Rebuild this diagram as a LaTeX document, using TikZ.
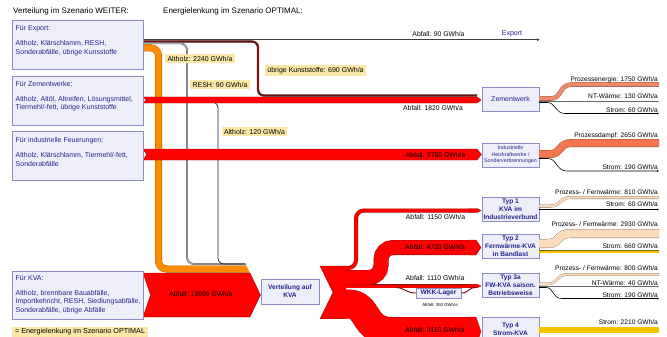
\documentclass[tikz,border=0pt]{standalone}
\usepackage{fontspec}
\setmainfont{Liberation Sans}
\usepackage{tikz}
\usetikzlibrary{arrows.meta}
\definecolor{boxfill}{HTML}{EEEEF8}
\definecolor{boxline}{HTML}{8C8CC8}
\definecolor{boxblue}{HTML}{25258F}
\definecolor{labfill}{HTML}{FBE8A6}
\definecolor{kred}{HTML}{FF0000}
\definecolor{kline}{HTML}{8A1010}
\definecolor{kstoff}{HTML}{7A1414}
\definecolor{alt}{HTML}{FF8C00}
\definecolor{resh}{HTML}{A8A8A8}
\definecolor{lachs}{HTML}{EE8A6C}
\definecolor{dampf}{HTML}{F47650}
\definecolor{waerme}{HTML}{FADCBC}
\definecolor{strom}{HTML}{F2C500}

\begin{document}
\begin{tikzpicture}[x=1pt,y=-1pt,
  box/.style={draw=boxline, fill=boxfill, line width=.6pt, inner sep=0pt},
  boxtxt/.style={anchor=north west, inner sep=0pt, align=left, text=boxblue, font=\fontsize{7}{8.5}\selectfont},
  anlage/.style={box, text=boxblue, align=center, minimum width=57pt, minimum height=24pt, font=\bfseries\fontsize{6.6}{8}\selectfont},
  gelb/.style={fill=labfill, inner xsep=2.5pt, inner ysep=1.8pt, font=\fontsize{7}{8}\selectfont},
  wert/.style={inner sep=0pt, font=\fontsize{6.8}{8}\selectfont},
  aus/.style={anchor=base east, inner sep=0pt, font=\fontsize{6.6}{8}\selectfont},
  titel/.style={anchor=west, inner sep=0pt, font=\fontsize{8}{9}\selectfont},
  rotfl/.style={fill=kred, draw=kline, line width=.3pt},
  band/.style n args={3}{draw=#1, double=#2, double distance=#3, line width=.3pt},
  duenn/.style={line width=.6pt, -{Latex[length=2pt,width=2pt]}}]
\useasboundingbox (0,0) rectangle (667,337);

\node[titel] (t1) at (13,11) {Verteilung im Szenario WEITER:};
\node[titel] (t2) at (163,11) {Energielenkung im Szenario OPTIMAL:};

\draw[black!75, line width=.7pt, -{Latex[length=3pt,width=3pt]}] (143,39.7) -- (540,39.7);
\draw[band={black!80}{kstoff}{1.6pt}, rounded corners=6pt] (143,41.5) -- (258,41.5) -- (258,95.6) -- (477,95.6);
\draw[band={black!70}{resh}{1.2pt}, rounded corners=7pt] (143,43.2) -- (187,43.2) -- (187,264) -- (247,264);
\draw[black!85, line width=.7pt, rounded corners=6pt] (143,102) -- (218,102) -- (218,264) -- (247,264);
\draw[band={alt!60!black}{alt}{6.4pt}, rounded corners=8pt] (143,47.8) -- (158.5,47.8) -- (158.5,269) -- (253,269);
\fill[white] (244.3,261) -- (264,261) -- (264,295) -- (260.5,295) -- cycle;
\filldraw[rotfl] (143,273) -- (250,273) -- (260.5,295) -- (250,317) -- (143,317) -- (150.5,295) -- cycle;
\filldraw[rotfl] (143,97) -- (477,97) -- (481,100) -- (477,103) -- (143,103) -- (146,100) -- cycle;
\filldraw[rotfl] (143,149) -- (477,149) -- (481.5,154.5) -- (477,160) -- (143,160) -- (146.5,154.5) -- cycle;

\node[gelb] (lalt) at (200,58.5) {Altholz: 2240 GWh/a};
\node[gelb] (lresh) at (220,84.5) {RESH: 90 GWh/a};
\node[gelb] (lkst) at (315.5,70.5) {übrige Kunststoffe: 690 GWh/a};
\node[gelb] (lalt2) at (254.5,131.5) {Altholz: 120 GWh/a};

\node[wert] (a90) at (438.5,34) {Abfall: 90 GWh/a};
\node[wert, text=boxblue, font=\fontsize{7}{8}\selectfont] (exp) at (512,34) {Export};
\node[wert] (a1820) at (433,108.5) {Abfall: 1820 GWh/a};
\node[wert] (a3780) at (435.5,155) {Abfall: 3780 GWh/a};
\node[wert] (a13990) at (201,294) {Abfall: 13990 GWh/a};

\node[box, minimum width=131pt, minimum height=49pt] (bexp) at (77.5,44.5) {};
\node[boxtxt] (texp) at (15.5,25.5) {Für Export:\\[6.5pt]Altholz, Klärschlamm, RESH,\\Sonderabfälle, übrige Kunsstoffe};
\node[box, minimum width=131pt, minimum height=49pt] (bzem) at (77.5,100.5) {};
\node[boxtxt] (tzem) at (15.5,81) {Für Zementwerke:\\[6.5pt]Altholz, Altöl, Altreifen, Lösungsmittel,\\Tiermehl/-fett,  übrige Kunststoffe};
\node[box, minimum width=131pt, minimum height=49pt] (bind) at (77.5,155.5) {};
\node[boxtxt] (tind) at (15.5,137.5) {Für industrielle Feuerungen:\\[6.5pt]Altholz, Klärschlamm, Tiermehl/-fett,\\Sonderabfälle};
\node[box, minimum width=131pt, minimum height=48pt] (bkva) at (77.5,295.5) {};
\node[boxtxt] (tkva) at (15.5,275) {Für KVA:\\[6.5pt]Altholz, brennbare Bauabfälle,\\Importkehricht, RESH, Siedlungsabfälle,\\Sonderabfälle, übrige Abfälle};
\node[gelb, anchor=north west, inner xsep=3pt, font=\fontsize{7.2}{8}\selectfont] (leg) at (12,326.5) {= Energielenkung im Szenario OPTIMAL};

\node[anlage, font=\fontsize{7}{8}\selectfont] (zem) at (510.5,99) {Zementwerk};
\node[anlage, font=\fontsize{5.3}{6.5}\selectfont] (hkw) at (510.5,155) {Industrielle\\Heizkraftwerke /\\Sonderverbrennungen};
\node[anlage] (typ1) at (510.5,209) {Typ 1\\KVA im\\Industrieverbund};
\node[anlage] (typ2) at (510.5,246.5) {Typ 2\\Fernwärme-KVA\\in Bandlast};
\node[anlage] (typ3) at (510.5,285.5) {Typ 3a\\FW-KVA saison.\\Betriebsweise};
\node[anlage] (typ4) at (510.5,329) {Typ 4\\Strom-KVA};
\node[anlage, minimum width=58pt, minimum height=25pt] (vert) at (290,291.5) {Verteilung auf\\KVA};
\node[anlage, minimum width=45pt, minimum height=10pt] (wkk) at (438.5,293) {WKK-Lager};

\draw[band={kline}{kred}{28.4pt}] (340,304) -- (348,304) .. controls (370,304) and (362,331.5) .. (392,331.5) -- (470,331.5);
\draw[band={kline}{kred}{3pt}] (340,286) -- (470,286);
\draw[band={kline}{kred}{14.4pt}, rounded corners=12pt] (340,277.5) -- (381,277.5) -- (381,247.5) -- (470,247.5);
\draw[band={kline}{kred}{3.4pt}, rounded corners=8pt] (340,268) -- (356,268) -- (356,210.5) -- (470,210.5);
\fill[kred] (320,266) -- (346,266) -- (346,318.8) -- (320,318.8) -- (333,292.4) -- cycle;
\draw[kline, line width=.3pt] (346,266) -- (320,266) -- (333,292.4) -- (320,318.8) -- (346,318.8);
\filldraw[rotfl] (469,208.5) -- (477,208.5) -- (481,210.5) -- (477,212.5) -- (469,212.5);
\filldraw[rotfl] (469,240) -- (476,240) -- (481,247.5) -- (476,255) -- (469,255);
\filldraw[rotfl] (469,284.2) -- (477,284.2) -- (481,286) -- (477,287.8) -- (469,287.8);
\filldraw[rotfl] (469,317) -- (476,317) -- (481,331.5) -- (476,346) -- (469,346);
\draw[kstoff, line width=1pt] (396,287.5) .. controls (404,287.5) and (406,293) .. (wkk.west);
\draw[kstoff, line width=1pt] (wkk.east) .. controls (469,293) and (468,287.5) .. (476,287.5);

\node[wert] (a1150) at (435.5,217.5) {Abfall: 1150 GWh/a};
\node[wert] (a4720) at (435,247.5) {Abfall: 4720 GWh/a};
\node[wert] (a1110) at (435,278) {Abfall: 1110 GWh/a};
\node[wert] (a9110) at (435,330.5) {Abfall: 9110 GWh/a};
\node[wert, font=\fontsize{4.3}{5}\selectfont] (a350) at (440,304.5) {Abfall: 350 GWh/a};

\draw[band={lachs!60!black}{lachs}{4pt}] (539,98.5) -- (551,98.5) .. controls (562,98.5) and (559,84.5) .. (572,84.5) -- (659,84.5);
\draw[duenn, black!60] (539,101.5) -- (659,101.5);
\draw[duenn] (539,102.5) -- (547,102.5) .. controls (556,102.5) and (555,113.5) .. (565,113.5) -- (659,113.5);
\draw[band={dampf!60!black}{dampf}{7.4pt}] (539,154) -- (550,154) .. controls (562,154) and (558,143) .. (572,143) -- (659,143);
\draw[duenn] (539,158.5) -- (548,158.5) .. controls (557,158.5) and (556,171) .. (567,171) -- (659,171);
\draw[band={waerme!50!black}{waerme}{2.4pt}] (539,206) -- (551,206) .. controls (561,206) and (559,197.5) .. (571,197.5) -- (659,197.5);
\draw[duenn] (539,209.5) -- (659,209.5);
\draw[band={waerme!50!black}{waerme}{8.4pt}] (539,243.5) -- (548,243.5) .. controls (561,243.5) and (556,233.5) .. (571,233.5) -- (659,233.5);
\draw[band={strom!50!black}{strom}{2pt}] (539,251.5) -- (659,251.5);
\draw[band={waerme!50!black}{waerme}{2pt}] (539,284) -- (548,284) .. controls (558,284) and (556,274.3) .. (568,274.3) -- (659,274.3);
\draw[duenn, black!60] (539,286.5) -- (659,286.5);
\draw[duenn] (539,287.5) -- (546,287.5) .. controls (554,287.5) and (552,298.5) .. (562,298.5) -- (659,298.5);
\draw[band={strom!50!black}{strom}{5.4pt}] (539,330) -- (659,330);

\node[aus] (o1) at (658,81.5) {Prozessenergie: 1750 GWh/a};
\node[aus] (o2) at (658,98.5) {NT-Wärme: 130 GWh/a};
\node[aus] (o3) at (658,112) {Strom: 60 GWh/a};
\node[aus] (o4) at (658,137) {Prozessdampf: 2650 GWh/a};
\node[aus] (o5) at (658,169.5) {Strom: 190 GWh/a};
\node[aus] (o6) at (658,194.5) {Prozess- / Fernwärme: 810 GWh/a};
\node[aus] (o7) at (658,206.5) {Strom: 60 GWh/a};
\node[aus] (o8) at (658,226) {Prozess- / Fernwärme: 2930 GWh/a};
\node[aus] (o9) at (658,248.5) {Strom: 660 GWh/a};
\node[aus] (o10) at (658,270.5) {Prozess- / Fernwärme: 800 GWh/a};
\node[aus] (o11) at (658,285.5) {NT-Wärme: 40 GWh/a};
\node[aus] (o12) at (658,297) {Strom: 190 GWh/a};
\node[aus] (o13) at (658,324.5) {Strom: 2210 GWh/a};
\end{tikzpicture}
\end{document}
